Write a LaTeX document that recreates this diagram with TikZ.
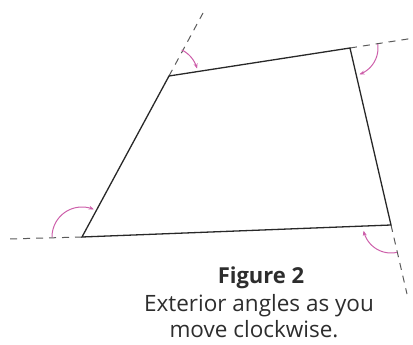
\documentclass[tikz,border=0pt]{standalone}
\usepackage{fontspec}
\setmainfont{Open Sans}
\usetikzlibrary{arrows.meta}
\definecolor{edgecol}{RGB}{40,40,40}
\definecolor{dashcol}{RGB}{90,90,90}
\definecolor{arccol}{RGB}{205,95,170}
\definecolor{textcol}{RGB}{45,45,45}
\tikzset{
  edge/.style={draw=edgecol, line width=1.3pt, line join=miter},
  ext/.style={draw=dashcol, line width=1pt, dash pattern=on 7pt off 6pt},
  anglemark/.style={draw=arccol, line width=1pt, -{Stealth[length=5pt,width=4pt]}},
  caption/.style={text=textcol, font=\fontsize{22.5}{26}\selectfont, anchor=base, inner sep=0pt}
}
\begin{document}
\begin{tikzpicture}[x=1pt,y=-1pt]
\useasboundingbox (0,0) rectangle (413,345);
\coordinate (A) at (82,237);
\coordinate (B) at (169,76);
\coordinate (C) at (350,48);
\coordinate (D) at (391,225);
\coordinate (EA) at (8,239);
\coordinate (EB) at (203,13);
\coordinate (EC) at (411,38.5);
\coordinate (ED) at (407,294);
% extensions
\draw[ext] (A) -- (EA);
\draw[ext] (B) -- (EB);
\draw[ext] (C) -- (EC);
\draw[ext] (D) -- (ED);
% quadrilateral
\draw[edge] (A) -- (B) -- (C) -- (D) -- cycle;
% exterior angle marks
\draw[anglemark, shift={(A)}] plot[smooth, domain=180:293, samples=30, variable=\t] ({30*cos(\t)},{30*sin(\t)});
\draw[anglemark, shift={(B)}] plot[smooth, domain=296:345, samples=20, variable=\t] ({29*cos(\t)},{29*sin(\t)});
\draw[anglemark, shift={(C)}] plot[smooth, domain=-8:70, samples=25, variable=\t] ({28*cos(\t)},{28*sin(\t)});
\draw[anglemark, shift={(D)}] plot[smooth, domain=78:168, samples=25, variable=\t] ({28*cos(\t)},{28*sin(\t)});
% caption
\node[caption, font=\fontsize{22}{26}\selectfont\bfseries] (t1) at (261,283) {Figure 2};
\node[caption] (t2) at (259,311) {Exterior angles as you};
\node[caption] (t3) at (254,337) {move clockwise.};
\end{tikzpicture}
\end{document}
